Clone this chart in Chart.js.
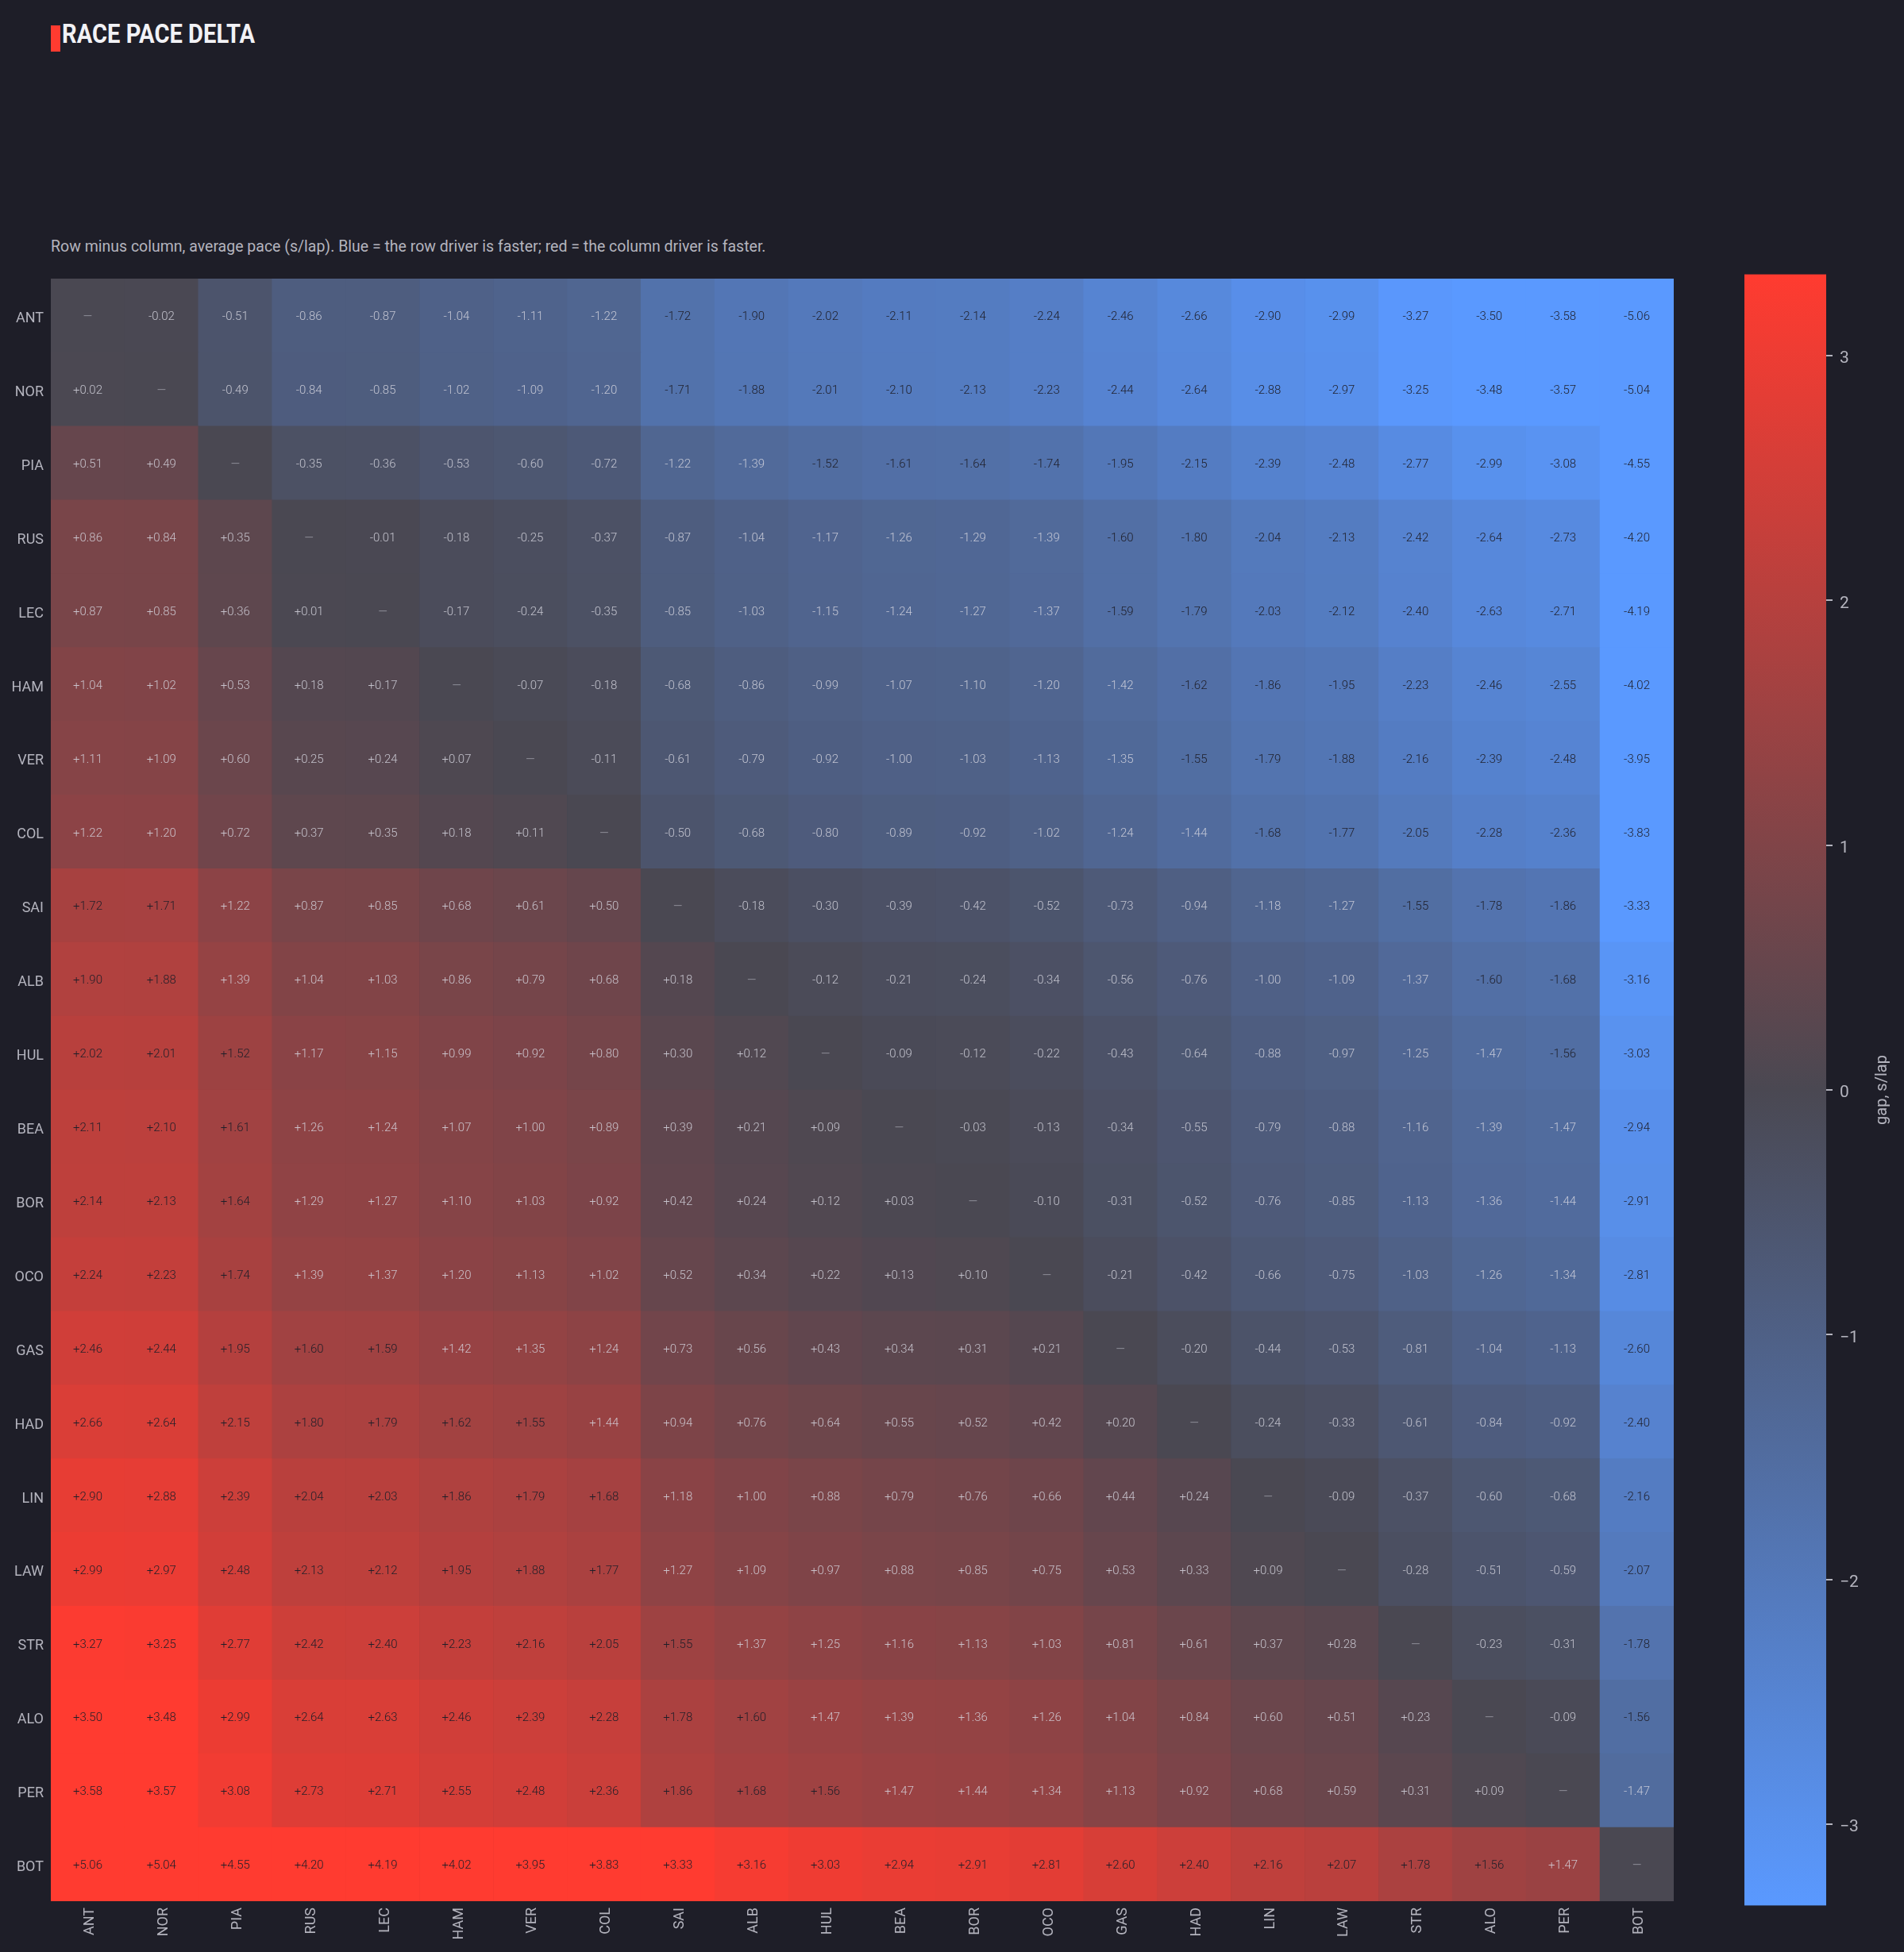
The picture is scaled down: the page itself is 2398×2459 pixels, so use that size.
<!DOCTYPE html>
<html>
<head>
<meta charset="utf-8">
<title>Race pace delta</title>
<script src="https://cdn.jsdelivr.net/npm/chart.js@4.4.1/dist/chart.umd.min.js"></script>
<style>
  html, body { margin: 0; padding: 0; background: #1e1e28; }
  body { width: 2398px; height: 2459px; position: relative; overflow: hidden; font-family: Roboto, "Noto Sans", sans-serif; }
  #titleMark { position: absolute; left: 64px; top: 32px; width: 12px; height: 33px; background: #ff3b30; }
  #title { position: absolute; left: 78px; top: 25px; font-size: 34px; font-weight: 700; line-height: 1; color: #f2f2f6; white-space: nowrap; transform-origin: left top; }
  #subtitle { position: absolute; left: 64px; top: 301px; font-size: 19.5px; line-height: 1; color: #b4b4be; white-space: nowrap; }
  #heat { position: absolute; left: 0; top: 331px; }
  #scaleBar { position: absolute; left: 2197px; top: 324px; }
</style>
</head>
<body>
<div id="titleMark"></div>
<div id="title">RACE PACE DELTA</div>
<div id="subtitle">Row minus column, average pace (s/lap). Blue = the row driver is faster; red = the column driver is faster.</div>
<canvas id="heat" width="2128" height="2128"></canvas>
<canvas id="scaleBar" width="201" height="2098"></canvas>

<script>
// ---------- data ----------
const drivers = ["ANT", "NOR", "PIA", "RUS", "LEC", "HAM", "VER", "COL", "SAI", "ALB", "HUL",
                 "BEA", "BOR", "OCO", "GAS", "HAD", "LIN", "LAW", "STR", "ALO", "PER", "BOT"];

// one row per driver: row minus column (s/lap), null on the diagonal
const gapANT = [null, -0.02, -0.51, -0.86, -0.87, -1.04, -1.11, -1.22, -1.72, -1.90, -2.02, -2.11, -2.14, -2.24, -2.46, -2.66, -2.90, -2.99, -3.27, -3.50, -3.58, -5.06];
const gapNOR = [0.02, null, -0.49, -0.84, -0.85, -1.02, -1.09, -1.20, -1.71, -1.88, -2.01, -2.10, -2.13, -2.23, -2.44, -2.64, -2.88, -2.97, -3.25, -3.48, -3.57, -5.04];
const gapPIA = [0.51, 0.49, null, -0.35, -0.36, -0.53, -0.60, -0.72, -1.22, -1.39, -1.52, -1.61, -1.64, -1.74, -1.95, -2.15, -2.39, -2.48, -2.77, -2.99, -3.08, -4.55];
const gapRUS = [0.86, 0.84, 0.35, null, -0.01, -0.18, -0.25, -0.37, -0.87, -1.04, -1.17, -1.26, -1.29, -1.39, -1.60, -1.80, -2.04, -2.13, -2.42, -2.64, -2.73, -4.20];
const gapLEC = [0.87, 0.85, 0.36, 0.01, null, -0.17, -0.24, -0.35, -0.85, -1.03, -1.15, -1.24, -1.27, -1.37, -1.59, -1.79, -2.03, -2.12, -2.40, -2.63, -2.71, -4.19];
const gapHAM = [1.04, 1.02, 0.53, 0.18, 0.17, null, -0.07, -0.18, -0.68, -0.86, -0.99, -1.07, -1.10, -1.20, -1.42, -1.62, -1.86, -1.95, -2.23, -2.46, -2.55, -4.02];
const gapVER = [1.11, 1.09, 0.60, 0.25, 0.24, 0.07, null, -0.11, -0.61, -0.79, -0.92, -1.00, -1.03, -1.13, -1.35, -1.55, -1.79, -1.88, -2.16, -2.39, -2.48, -3.95];
const gapCOL = [1.22, 1.20, 0.72, 0.37, 0.35, 0.18, 0.11, null, -0.50, -0.68, -0.80, -0.89, -0.92, -1.02, -1.24, -1.44, -1.68, -1.77, -2.05, -2.28, -2.36, -3.83];
const gapSAI = [1.72, 1.71, 1.22, 0.87, 0.85, 0.68, 0.61, 0.50, null, -0.18, -0.30, -0.39, -0.42, -0.52, -0.73, -0.94, -1.18, -1.27, -1.55, -1.78, -1.86, -3.33];
const gapALB = [1.90, 1.88, 1.39, 1.04, 1.03, 0.86, 0.79, 0.68, 0.18, null, -0.12, -0.21, -0.24, -0.34, -0.56, -0.76, -1.00, -1.09, -1.37, -1.60, -1.68, -3.16];
const gapHUL = [2.02, 2.01, 1.52, 1.17, 1.15, 0.99, 0.92, 0.80, 0.30, 0.12, null, -0.09, -0.12, -0.22, -0.43, -0.64, -0.88, -0.97, -1.25, -1.47, -1.56, -3.03];
const gapBEA = [2.11, 2.10, 1.61, 1.26, 1.24, 1.07, 1.00, 0.89, 0.39, 0.21, 0.09, null, -0.03, -0.13, -0.34, -0.55, -0.79, -0.88, -1.16, -1.39, -1.47, -2.94];
const gapBOR = [2.14, 2.13, 1.64, 1.29, 1.27, 1.10, 1.03, 0.92, 0.42, 0.24, 0.12, 0.03, null, -0.10, -0.31, -0.52, -0.76, -0.85, -1.13, -1.36, -1.44, -2.91];
const gapOCO = [2.24, 2.23, 1.74, 1.39, 1.37, 1.20, 1.13, 1.02, 0.52, 0.34, 0.22, 0.13, 0.10, null, -0.21, -0.42, -0.66, -0.75, -1.03, -1.26, -1.34, -2.81];
const gapGAS = [2.46, 2.44, 1.95, 1.60, 1.59, 1.42, 1.35, 1.24, 0.73, 0.56, 0.43, 0.34, 0.31, 0.21, null, -0.20, -0.44, -0.53, -0.81, -1.04, -1.13, -2.60];
const gapHAD = [2.66, 2.64, 2.15, 1.80, 1.79, 1.62, 1.55, 1.44, 0.94, 0.76, 0.64, 0.55, 0.52, 0.42, 0.20, null, -0.24, -0.33, -0.61, -0.84, -0.92, -2.40];
const gapLIN = [2.90, 2.88, 2.39, 2.04, 2.03, 1.86, 1.79, 1.68, 1.18, 1.00, 0.88, 0.79, 0.76, 0.66, 0.44, 0.24, null, -0.09, -0.37, -0.60, -0.68, -2.16];
const gapLAW = [2.99, 2.97, 2.48, 2.13, 2.12, 1.95, 1.88, 1.77, 1.27, 1.09, 0.97, 0.88, 0.85, 0.75, 0.53, 0.33, 0.09, null, -0.28, -0.51, -0.59, -2.07];
const gapSTR = [3.27, 3.25, 2.77, 2.42, 2.40, 2.23, 2.16, 2.05, 1.55, 1.37, 1.25, 1.16, 1.13, 1.03, 0.81, 0.61, 0.37, 0.28, null, -0.23, -0.31, -1.78];
const gapALO = [3.50, 3.48, 2.99, 2.64, 2.63, 2.46, 2.39, 2.28, 1.78, 1.60, 1.47, 1.39, 1.36, 1.26, 1.04, 0.84, 0.60, 0.51, 0.23, null, -0.09, -1.56];
const gapPER = [3.58, 3.57, 3.08, 2.73, 2.71, 2.55, 2.48, 2.36, 1.86, 1.68, 1.56, 1.47, 1.44, 1.34, 1.13, 0.92, 0.68, 0.59, 0.31, 0.09, null, -1.47];
const gapBOT = [5.06, 5.04, 4.55, 4.20, 4.19, 4.02, 3.95, 3.83, 3.33, 3.16, 3.03, 2.94, 2.91, 2.81, 2.60, 2.40, 2.16, 2.07, 1.78, 1.56, 1.47, null];

const gapRows = [gapANT, gapNOR, gapPIA, gapRUS, gapLEC, gapHAM, gapVER, gapCOL, gapSAI, gapALB, gapHUL,
                 gapBEA, gapBOR, gapOCO, gapGAS, gapHAD, gapLIN, gapLAW, gapSTR, gapALO, gapPER, gapBOT];

const scaleLimit = 3.333;           // colour scale runs -limit..+limit
const scaleTicks = [-3, -2, -1, 0, 1, 2, 3];

// ---------- colours ----------
const BG = '#1e1e28';
const LABEL = '#b4b4be';
const FAST = [90, 153, 255];    // row faster (negative)
const EVEN = [74, 72, 82];
const SLOW = [255, 59, 48];     // column faster (positive)

function rgb(c) { return `rgb(${c[0]}, ${c[1]}, ${c[2]})`; }

function cellColour(v) {
  if (v === null) return rgb(EVEN);
  const t = Math.max(-1, Math.min(1, v / scaleLimit));
  const end = t < 0 ? FAST : SLOW;
  const a = Math.abs(t);
  return rgb(EVEN.map((m, i) => Math.round(m + (end[i] - m) * a)));
}

function signed(v) {
  return (v > 0 ? '+' : v < 0 ? '-' : '') + Math.abs(v).toFixed(2);
}

Chart.defaults.font.family = 'Roboto, "Noto Sans", sans-serif';
Chart.defaults.color = LABEL;

// squeeze the title to the condensed width of the original
const titleEl = document.getElementById('title');
titleEl.style.transform = `scaleX(${243 / titleEl.getBoundingClientRect().width})`;

// ---------- heatmap (stacked unit bars, one dataset per row) ----------
const heatSets = drivers.map((_, d) => {
  const row = drivers.length - 1 - d;          // bottom dataset = last driver
  return {
    label: drivers[row],
    rowIndex: row,
    data: drivers.map(() => 1),
    backgroundColor: gapRows[row].map(cellColour),
    borderWidth: 0,
    barPercentage: 1,
    categoryPercentage: 1
  };
});

const cellLabels = {
  id: 'cellLabels',
  afterDatasetsDraw(chart) {
    const ctx = chart.ctx;
    ctx.save();
    ctx.textAlign = 'center';
    ctx.textBaseline = 'middle';
    chart.data.datasets.forEach((ds, di) => {
      const meta = chart.getDatasetMeta(di);
      const values = gapRows[ds.rowIndex];
      meta.data.forEach((bar, ci) => {
        const p = bar.getProps(['x', 'y', 'base'], true);
        const cy = (p.y + p.base) / 2 + 2;
        const v = values[ci];
        if (v === null) {
          ctx.font = '15px Roboto';
          ctx.fillStyle = 'rgba(150, 150, 160, 0.8)';
          ctx.fillText('\u2014', p.x, cy);
          return;
        }
        ctx.font = '300 15px Roboto';
        ctx.fillStyle = Math.abs(v) >= 1.5 ? '#1e1e28' : 'rgba(215, 215, 225, 0.85)';
        ctx.fillText(signed(v), p.x, cy);
      });
    });
    ctx.restore();
  }
};

new Chart(document.getElementById('heat'), {
  type: 'bar',
  data: { labels: drivers, datasets: heatSets },
  options: {
    responsive: false,
    animation: false,
    layout: { padding: { top: 20, right: 20, bottom: 0, left: 0 } },
    scales: {
      x: {
        stacked: true,
        grid: { display: false, drawTicks: false },
        border: { display: false },
        ticks: { color: LABEL, font: { size: 18 }, minRotation: 90, maxRotation: 90, padding: 8, labelOffset: 3, autoSkip: false },
        afterFit(s) { s.height = 64; }
      },
      y: {
        stacked: true,
        min: 0,
        max: drivers.length,
        grid: { display: false, drawTicks: false },
        border: { display: false },
        ticks: {
          color: LABEL,
          font: { size: 18 },
          padding: 9,
          labelOffset: 4,
          callback: (v) => drivers[drivers.length - 1 - Math.floor(v)]
        },
        afterBuildTicks(s) { s.ticks = drivers.map((_, k) => ({ value: k + 0.5 })); },
        afterFit(s) { s.width = 64; }
      }
    },
    plugins: { legend: { display: false }, tooltip: { enabled: false } }
  },
  plugins: [cellLabels]
});

// ---------- colour bar ----------
const barTitle = {
  id: 'barTitle',
  afterDraw(chart) {
    const a = chart.chartArea;
    const ctx = chart.ctx;
    ctx.save();
    ctx.translate(174, (a.top + a.bottom) / 2);
    ctx.rotate(-Math.PI / 2);
    ctx.font = '20px Roboto';
    ctx.fillStyle = LABEL;
    ctx.textAlign = 'center';
    ctx.textBaseline = 'middle';
    ctx.fillText('gap, s/lap', 0, 0);
    ctx.restore();
  }
};

new Chart(document.getElementById('scaleBar'), {
  type: 'bar',
  data: {
    labels: ['gap'],
    datasets: [{
      data: [[-scaleLimit, scaleLimit]],
      backgroundColor(c) {
        const a = c.chart.chartArea;
        if (!a) return rgb(EVEN);
        const g = c.chart.ctx.createLinearGradient(0, a.bottom, 0, a.top);
        g.addColorStop(0, rgb(FAST));
        g.addColorStop(0.5, rgb(EVEN));
        g.addColorStop(1, rgb(SLOW));
        return g;
      },
      borderWidth: 0,
      barPercentage: 1,
      categoryPercentage: 1
    }]
  },
  options: {
    responsive: false,
    animation: false,
    layout: { padding: { top: 20, bottom: 20, left: 0, right: 0 } },
    scales: {
      x: { display: false },
      y: {
        position: 'right',
        min: -scaleLimit,
        max: scaleLimit,
        grid: { drawOnChartArea: false, drawTicks: true, tickLength: 8, tickColor: LABEL, lineWidth: 2 },
        border: { display: false },
        ticks: {
          color: LABEL,
          font: { size: 21 },
          padding: 9,
          labelOffset: 4,
          callback: (v) => v < 0 ? '\u2212' + Math.abs(v) : String(v)
        },
        afterBuildTicks(s) { s.ticks = scaleTicks.map(v => ({ value: v })); },
        afterFit(s) { s.width = 98; }
      }
    },
    plugins: { legend: { display: false }, tooltip: { enabled: false } }
  },
  plugins: [barTitle]
});
</script>
</body>
</html>
